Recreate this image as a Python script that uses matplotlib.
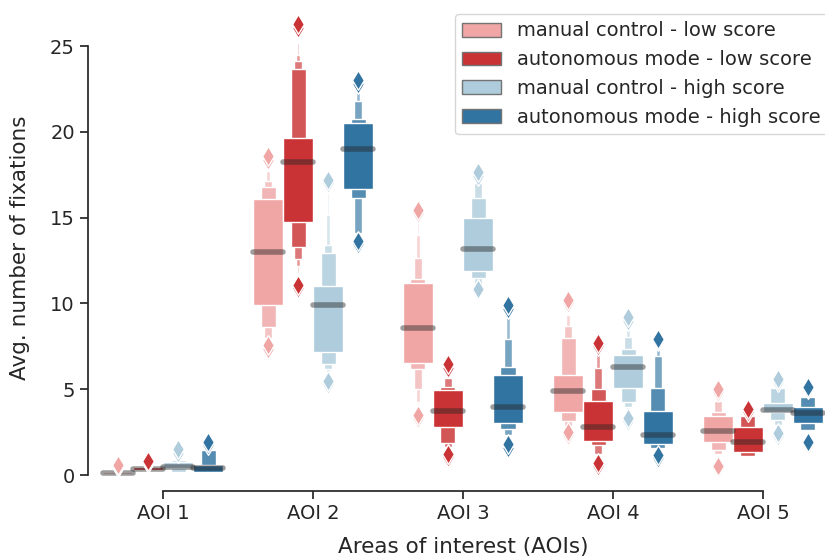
import matplotlib
matplotlib.use("Agg")
import matplotlib.pyplot as plt
from matplotlib.patches import Rectangle, Patch
import seaborn as sns
import numpy as np

sns.set_style("ticks")
plt.rcParams['font.family'] = ['DejaVu Sans']

aois = ["AOI 1", "AOI 2", "AOI 3", "AOI 4", "AOI 5"]
groups = ["manual control - low score", "autonomous mode - low score",
          "manual control - high score", "autonomous mode - high score"]

# letter values: median, boxes (inner -> outer), outliers
ml_median = [0.1, 13.0, 8.58, 4.9, 2.56]
ml_levels = [
    [(0.04, 0.16), (0.02, 0.22)],
    [(9.9, 16.08), (8.6, 16.8), (8.0, 17.15), (7.8, 17.7), (7.7, 18.0)],
    [(6.55, 11.17), (6.2, 11.42), (5.0, 12.66), (4.27, 14.0), (4.1, 14.8)],
    [(3.69, 5.83), (3.17, 8.0), (2.86, 8.68), (2.75, 9.3)],
    [(1.92, 3.44), (1.46, 3.69), (1.22, 4.33)],
]
ml_fliers = [[0.45, 0.58], [7.35, 7.55, 18.35, 18.6], [3.3, 3.5, 15.25, 15.45],
             [2.35, 2.5, 10.0, 10.2], [0.4, 0.55, 4.85, 5.0]]

al_median = [0.38, 18.24, 3.75, 2.8, 1.94]
al_levels = [
    [(0.27, 0.47), (0.25, 0.52)],
    [(14.72, 19.67), (13.3, 23.64), (12.6, 24.14), (12.2, 24.5), (11.77, 25.2)],
    [(2.78, 4.95), (1.85, 5.15), (1.65, 5.63), (1.5, 6.1)],
    [(2.0, 4.31), (1.73, 5.0), (1.22, 6.26), (1.05, 7.0)],
    [(1.36, 2.82), (1.12, 3.44)],
]
al_fliers = [[0.7, 0.82], [10.9, 11.1, 26.05, 26.3], [1.05, 1.25, 6.25, 6.45],
             [0.5, 0.7, 7.5, 7.7], [3.7, 3.85]]

mh_median = [0.48, 9.93, 13.15, 6.31, 3.79]
mh_levels = [
    [(0.39, 0.78), (0.2, 0.85), (0.12, 0.95)],
    [(7.19, 11.0), (6.45, 12.92), (6.16, 13.4), (5.9, 15.15), (5.8, 16.5)],
    [(11.89, 14.96), (11.5, 16.16), (11.0, 17.03), (10.95, 17.4)],
    [(5.09, 7.0), (4.25, 7.32), (3.94, 8.06), (3.85, 8.49)],
    [(3.69, 4.18), (3.2, 5.05), (2.91, 5.2)],
]
mh_fliers = [[1.3, 1.5], [5.3, 5.5, 17.0, 17.2], [10.7, 10.85, 17.45, 17.65],
             [3.15, 3.35, 9.0, 9.2], [2.3, 2.45, 5.45, 5.62]]

ah_median = [0.42, 19.0, 3.96, 2.35, 3.6]
ah_levels = [
    [(0.2, 0.58), (0.15, 1.46), (0.12, 1.55)],
    [(16.67, 20.5), (16.12, 20.75), (14.08, 21.8), (13.9, 22.3)],
    [(3.01, 5.83), (2.66, 6.27), (2.31, 7.9), (2.2, 9.22)],
    [(1.8, 3.75), (1.59, 5.09), (1.5, 6.95), (1.45, 7.38)],
    [(3.01, 3.98), (2.62, 4.53)],
]
ah_fliers = [[1.75, 1.92], [13.45, 13.65, 22.8, 23.0], [1.6, 1.8, 9.7, 9.9],
             [1.0, 1.15, 7.8, 7.95], [1.8, 1.95, 5.0, 5.15]]

medians = [ml_median, al_median, mh_median, ah_median]
levels = [ml_levels, al_levels, mh_levels, ah_levels]
fliers = [ml_fliers, al_fliers, mh_fliers, ah_fliers]

paired = sns.color_palette("Paired")
colors = [sns.desaturate(paired[k], 0.75) for k in (4, 5, 0, 1)]

fig = plt.figure(figsize=(8.25, 5.59), dpi=100)
ax = fig.add_axes([88 / 825, (559 - 491) / 559, 750 / 825, 487 / 559])

W = 0.2
for h in range(4):
    c = np.array(colors[h])
    for i in range(len(aois)):
        x = i + (h - 1.5) * W
        lv = levels[h][i]
        for j in reversed(range(len(lv))):
            lo, hi = lv[j]
            w = W * 0.5 ** j
            fc = c + (1 - c) * min(0.85, 0.17 * j)
            ax.add_patch(Rectangle((x - w / 2, lo), w, hi - lo, facecolor=fc,
                                   edgecolor="white", linewidth=1, zorder=1))
        m = medians[h][i]
        ax.plot([x - W / 2, x + W / 2], [m, m], color=".15", alpha=.45, lw=4,
                solid_capstyle="round", zorder=2)
        f = fliers[h][i]
        ax.scatter([x] * len(f), f, marker="d", s=100, color=c,
                   edgecolor="white", linewidth=1, zorder=3)

ax.set_xlim(-0.5, 4.5)
ax.set_ylim(-0.93, 27.45)
ax.set_xticks(range(len(aois)))
ax.set_xticklabels(aois)
ax.set_yticks([0, 5, 10, 15, 20, 25])
ax.tick_params(labelsize=14, length=6, width=1.25, colors=".15")
ax.set_xlabel("Areas of interest (AOIs)", fontsize=15.5, color=".15", labelpad=10)
ax.set_ylabel("Avg. number of fixations", fontsize=15.5, color=".15", labelpad=14)
for s in ("top", "right"):
    ax.spines[s].set_visible(False)
ax.spines["left"].set_bounds(0, 25)
ax.spines["bottom"].set_bounds(0, 4)
for s in ("left", "bottom"):
    ax.spines[s].set_linewidth(1.25)
    ax.spines[s].set_color(".15")

handles = [Patch(facecolor=colors[h], edgecolor=".45", linewidth=1) for h in range(4)]
ax.legend(handles, groups, loc="upper right", fontsize=14)

fig.savefig("out.png", dpi=100)
